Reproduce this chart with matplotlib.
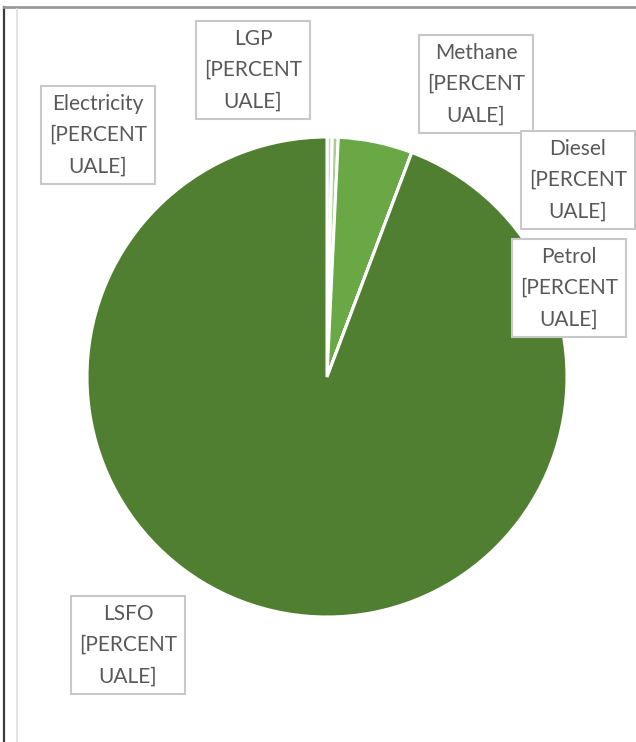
import matplotlib.pyplot as plt
from matplotlib.lines import Line2D

# data (Diesel/Petrol too small to see)
fuels = ['Electricity', 'LGP', 'Methane', 'Diesel', 'Petrol', 'LSFO']
shares = [0.35, 0.4, 5.0, 0.0, 0.0, 94.25]
colors = ['#c5dcb5', '#a9cd93', '#6aa745', '#4f8030', '#4f8030', '#517f32']

# label box centres in pixels (x, y from top)
label_pos = [(98, 135), (253, 70), (476, 84), (578, 180), (569, 288), (128, 645)]

W, H = 636, 742
fig = plt.figure(figsize=(W / 100, H / 100), dpi=100)
fig.patch.set_facecolor('white')
ax = fig.add_axes([0, 0, 1, 1])

ax.pie(shares, colors=colors, startangle=90, counterclock=False,
       center=(327, H - 377), radius=240, frame=True,
       wedgeprops=dict(edgecolor='white', linewidth=2.2))
ax.set_xlim(0, W)
ax.set_ylim(0, H)
ax.axis('off')

for name, (x, y) in zip(fuels, label_pos):
    ax.text(x, H - y, name + '\n[PERCENT\nUALE]', ha='center', va='center',
            fontsize=15, family='Lato', color='#595959', linespacing=1.7,
            bbox=dict(boxstyle='square,pad=0.38', facecolor='white',
                      edgecolor='#c8c8c8', linewidth=1.5))

# screenshot frame lines
fig.add_artist(Line2D([4 / W, 4 / W], [0, 1 - 7 / H], color='#3a3a3a', linewidth=1.6))
fig.add_artist(Line2D([4 / W, 1], [1 - 7 / H, 1 - 7 / H], color='#9a9a9a', linewidth=2))
fig.add_artist(Line2D([17 / W, 17 / W], [0, 1 - 9 / H], color='#dedede', linewidth=1.2))

fig.savefig('out.png', dpi=100)
